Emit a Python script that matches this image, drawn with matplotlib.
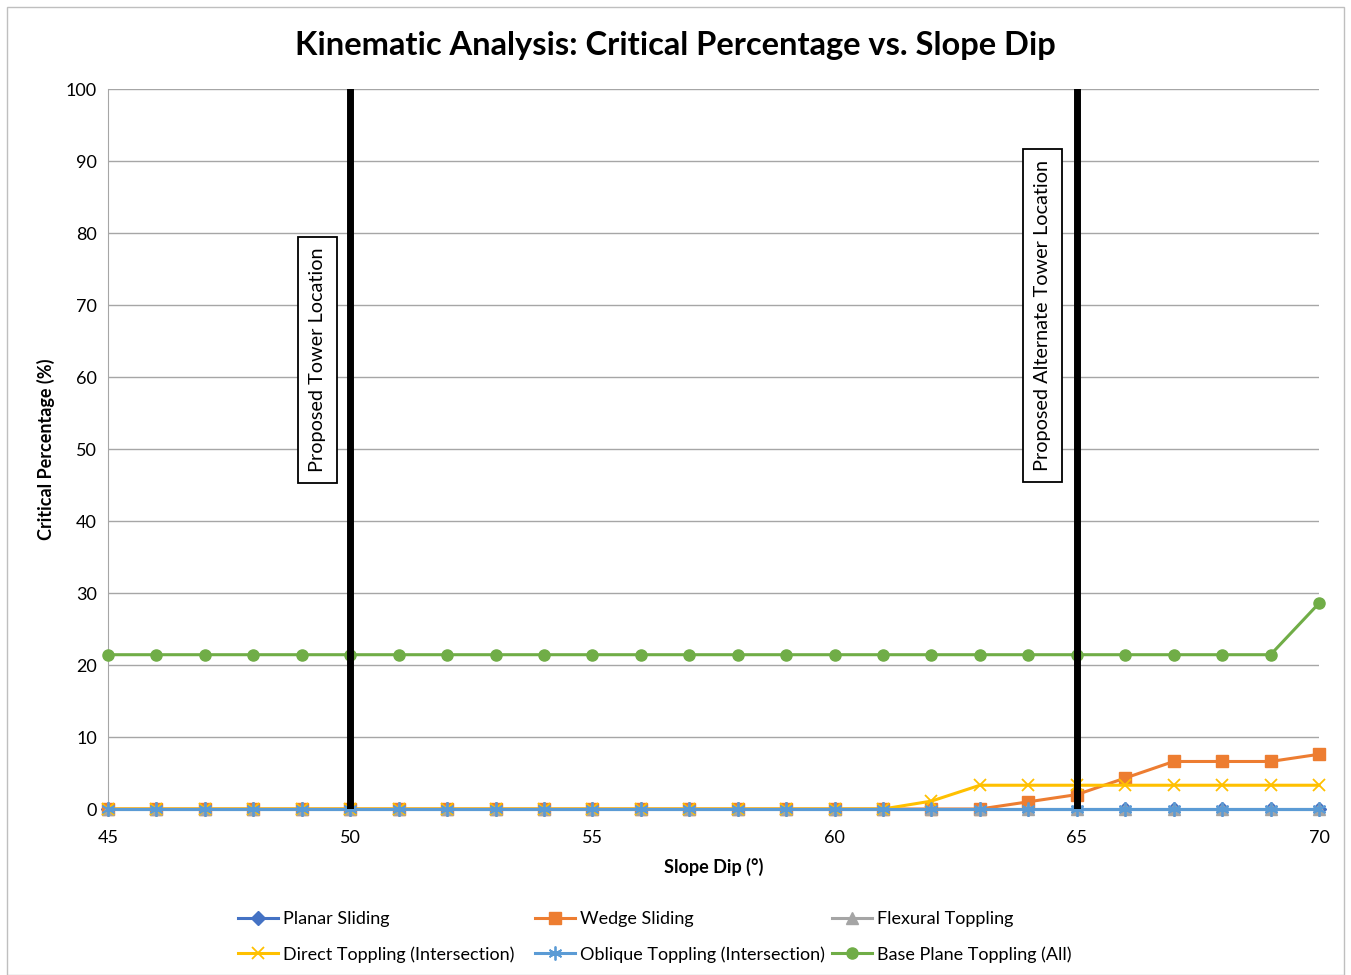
import matplotlib
matplotlib.use("Agg")
import matplotlib.pyplot as plt
from matplotlib.patches import Rectangle

plt.rcParams['font.family'] = ['Lato', 'DejaVu Sans']

slope_dip = list(range(45, 71))
planar = [0]*26
wedge = [0]*19 + [1.0, 2.0, 4.3, 6.6, 6.6, 6.6, 7.6]
flexural = [0]*26
direct = [0]*17 + [1.1] + [3.3]*8
oblique = [0]*26
base = [21.43]*25 + [28.57]

series = [
    ("Planar Sliding", planar, "#4472C4", "D", 7),
    ("Wedge Sliding", wedge, "#ED7D31", "s", 8),
    ("Flexural Toppling", flexural, "#A5A5A5", "^", 8),
    ("Direct Toppling (Intersection)", direct, "#FFC000", "x", 9),
    ("Oblique Toppling (Intersection)", oblique, "#5B9BD5", (6, 2, 0), 10),
    ("Base Plane Toppling (All)", base, "#70AD47", "o", 8),
]

W, H = 1351, 975
fig = plt.figure(figsize=(W/100, H/100), dpi=100)
fig.patches.append(Rectangle((0.005, 0.0), 0.99, 0.993, transform=fig.transFigure,
                             fill=False, edgecolor="#BFBFBF", linewidth=1))
ax = fig.add_axes([108/W, 1-809/H, (1319-108)/W, (809-89)/H])

handles = []
for name, vals, col, mk, ms in series:
    h, = ax.plot(slope_dip, vals, color=col, marker=mk, markersize=ms, linewidth=2.2,
                 label=name, markeredgewidth=1.3 if mk in ("x", (6, 2, 0)) else 1,
                 clip_on=False, zorder=3)
    handles.append(h)

ax.axvline(50, color="black", linewidth=5, zorder=4)
ax.axvline(65, color="black", linewidth=5, zorder=4)

box = dict(boxstyle="square,pad=0.55", facecolor="white", edgecolor="black", linewidth=1.3)
ax.text(49.33, 62.4, "Proposed Tower Location", rotation=90, ha="center", va="center",
        fontsize=14.3, bbox=box, zorder=5)
ax.text(64.3, 68.5, "Proposed Alternate Tower Location", rotation=90, ha="center", va="center",
        fontsize=14.3, bbox=box, zorder=5)

ax.set_xlim(45, 70)
ax.set_ylim(0, 100)
ax.set_xticks([45, 50, 55, 60, 65, 70])
ax.set_yticks(range(0, 101, 10))
ax.tick_params(axis="y", labelsize=13, length=0, pad=8)
ax.tick_params(axis="x", labelsize=13, length=0, pad=15)
ax.grid(axis="y", color="#A6A6A6", linewidth=1)
ax.set_axisbelow(True)
for s in ["top", "right"]:
    ax.spines[s].set_visible(False)
ax.spines["left"].set_color("#A6A6A6")
ax.spines["bottom"].set_color("#A6A6A6")

ax.set_xlabel("Slope Dip (°)", fontsize=13, fontweight="bold", labelpad=9)
ax.set_ylabel("Critical Percentage (%)", fontsize=13, fontweight="bold", labelpad=8)
fig.text(0.5, 1-45/H, "Kinematic Analysis: Critical Percentage vs. Slope Dip", fontsize=23.5,
         fontweight="bold", ha="center", va="center")

col_x = [238, 535, 832]
for i, cx in enumerate(col_x):
    hs = [handles[i], handles[i+3]]
    fig.legend(hs, [h.get_label() for h in hs], loc="upper left",
               bbox_to_anchor=(cx/W, 1-911/H), frameon=False, fontsize=13,
               handlelength=2.2, handletextpad=0.3, labelspacing=1.05,
               borderpad=0, borderaxespad=0)

fig.savefig("out.png", dpi=100)
